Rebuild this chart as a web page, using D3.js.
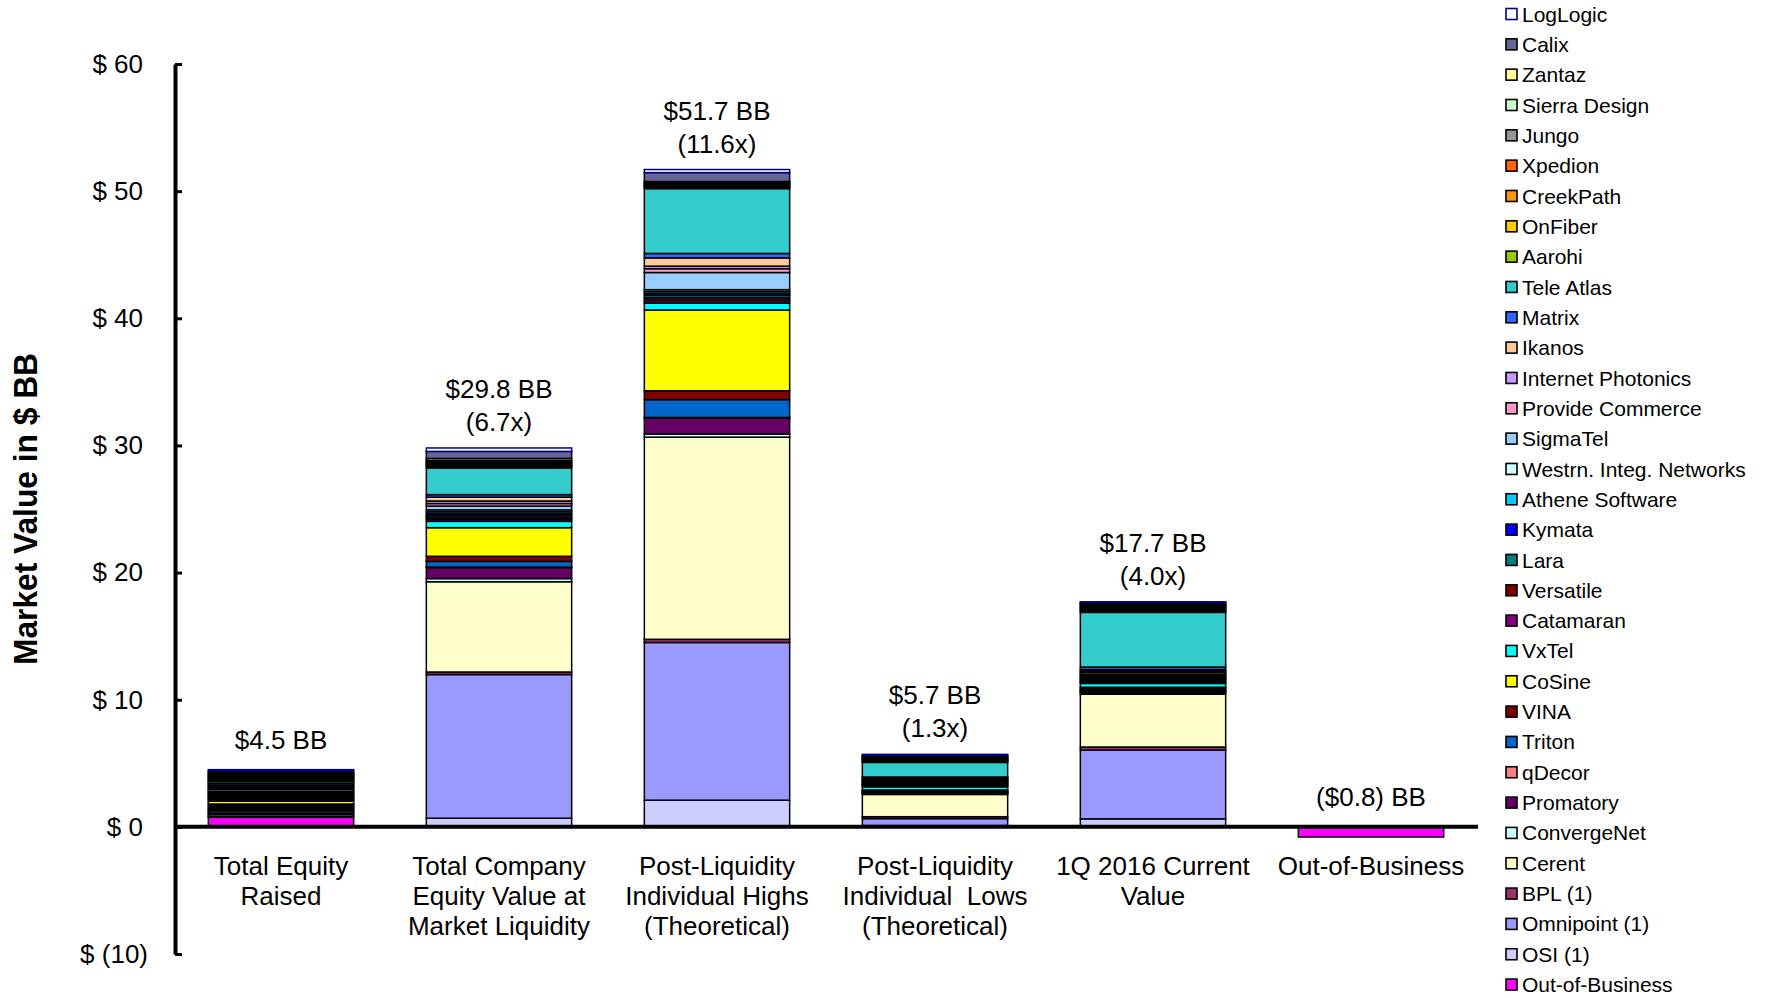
<!DOCTYPE html>
<html>
<head>
<meta charset="utf-8">
<script src="https://cdn.jsdelivr.net/npm/d3@7"></script>
<style>
  body { margin: 0; background: #fff; }
  svg { display: block; font-family: "Liberation Sans", Arial, sans-serif; }
</style>
</head>
<body>
<svg id="chart" width="1769" height="998"></svg>
<script>
"use strict";
// categories on the x axis (\n = line break)
const categories = [
  "Total Equity\nRaised",
  "Total Company\nEquity Value at\nMarket Liquidity",
  "Post-Liquidity\nIndividual Highs\n(Theoretical)",
  "Post-Liquidity\nIndividual  Lows\n(Theoretical)",
  "1Q 2016 Current\nValue",
  "Out-of-Business"
];

// series in legend order (top to bottom); stacked bottom-up in reverse
const seriesNames = [
  "LogLogic", "Calix", "Zantaz", "Sierra Design", "Jungo", "Xpedion", "CreekPath", "OnFiber",
  "Aarohi", "Tele Atlas", "Matrix", "Ikanos", "Internet Photonics", "Provide Commerce", "SigmaTel",
  "Westrn. Integ. Networks", "Athene Software", "Kymata", "Lara", "Versatile", "Catamaran", "VxTel",
  "CoSine", "VINA", "Triton", "qDecor", "Promatory", "ConvergeNet", "Cerent", "BPL (1)",
  "Omnipoint (1)", "OSI (1)", "Out-of-Business"
];
const seriesColors = [
  "#ffffff", "#666699", "#ffff99", "#ccffcc", "#969696", "#ff6600", "#ff9900", "#ffcc00",
  "#99cc00", "#33cccc", "#3366ff", "#ffcc99", "#cc99ff", "#ff99cc", "#99ccff",
  "#ccffff", "#00ccff", "#0000ff", "#008080", "#800000", "#800080", "#00ffff",
  "#ffff00", "#800000", "#0066cc", "#ff8080", "#660066", "#ccffff", "#ffffcc", "#993366",
  "#9999ff", "#ccccff", "#ff00ff"
];

// values in $ BB per bar, same order as seriesNames
const equityRaised = [0.1, 0.13, 0.1, 0.1, 0.1, 0.1, 0.1, 0.1, 0.1, 0.15, 0.13, 0.12, 0.12, 0.1, 0.15,
  0.1, 0.12, 0.1, 0.12, 0.1, 0.12, 0.12, 0.22, 0.1, 0.13, 0.1, 0.12, 0.1, 0.15, 0.1, 0.15, 0.1, 0.75];
const liquidityValue = [0.27, 0.55, 0.15, 0.1, 0.1, 0.1, 0.1, 0.1, 0.1, 2.1, 0.2, 0.3, 0.2, 0.2, 0.3,
  0.15, 0.15, 0.15, 0.15, 0.15, 0.15, 0.5, 2.25, 0.4, 0.45, 0.05, 0.85, 0.25, 7.1, 0.2, 11.3, 0.68, 0];
const highsValues = [0.24, 0.7, 0.08, 0.08, 0.08, 0.08, 0.08, 0.08, 0.08, 5.1, 0.35, 0.65, 0.2, 0.3, 1.35,
  0.15, 0.15, 0.15, 0.2, 0.2, 0.2, 0.55, 6.35, 0.7, 1.4, 0.05, 1.25, 0.25, 15.9, 0.25, 12.4, 2.1, 0];
const lowsValues = [0.07, 0.07, 0.07, 0.07, 0.07, 0.07, 0.07, 0.07, 0.07, 1.15, 0.07, 0.07, 0.07, 0.07, 0.07,
  0.07, 0.07, 0.07, 0.07, 0.07, 0.07, 0.25, 0.05, 0.05, 0.08, 0.04, 0.08, 0.05, 1.75, 0.15, 0.55, 0.1, 0];
const currentValues = [0.05, 0.08, 0.1, 0.1, 0.1, 0.1, 0.1, 0.1, 0.1, 4.3, 0.2, 0.12, 0.12, 0.15, 0.1,
  0.1, 0.1, 0.1, 0.1, 0.1, 0.1, 0.3, 0.1, 0.1, 0.1, 0.05, 0.1, 0.1, 4.15, 0.25, 5.4, 0.63, 0];
const outOfBusinessValues = [0, 0, 0, 0, 0, 0, 0, 0, 0, 0, 0, 0, 0, 0, 0,
  0, 0, 0, 0, 0, 0, 0, 0, 0, 0, 0, 0, 0, 0, 0, 0, 0, -0.8];

const totalLabels = ["$4.5 BB", "$29.8 BB", "$51.7 BB", "$5.7 BB", "$17.7 BB", "($0.8) BB"];
const multipleLabels = ["", "(6.7x)", "(11.6x)", "(1.3x)", "(4.0x)", ""];
const yTicks = [-10, 0, 10, 20, 30, 40, 50, 60];

const barValues = [equityRaised, liquidityValue, highsValues, lowsValues, currentValues, outOfBusinessValues];

const svg = d3.select("#chart");
const x = d3.scaleBand().domain(categories).range([172, 1480]).paddingInner(1 / 3).paddingOuter(1 / 6);
const y = d3.scaleLinear().domain([-10, 60]).range([954, 64]);
const color = d3.scaleOrdinal().domain(seriesNames).range(seriesColors);

const rows = categories.map((c, i) => {
  const row = {category: c};
  seriesNames.forEach((s, j) => row[s] = barValues[i][j]);
  return row;
});

const stack = d3.stack().keys(seriesNames.slice().reverse()).offset(d3.stackOffsetDiverging);
const layers = stack(rows);

// stacked segments
svg.append("g").selectAll("g").data(layers).join("g")
  .attr("fill", d => color(d.key))
  .attr("stroke", d => d.key === "LogLogic" ? "#000080" : "#000")
  .attr("stroke-width", 1.5)
  .selectAll("rect").data(d => d.filter(p => p[1] !== p[0])).join("rect")
    .attr("x", d => x(d.data.category))
    .attr("width", x.bandwidth())
    .attr("y", d => y(Math.max(d[0], d[1])))
    .attr("height", d => Math.abs(y(d[0]) - y(d[1])));

// zero line
svg.append("line")
  .attr("x1", 175).attr("x2", 1478)
  .attr("y1", y(0)).attr("y2", y(0))
  .attr("stroke", "#000").attr("stroke-width", 4);

// y axis, ticks pointing into the plot
const yAxis = d3.axisLeft(y).tickValues(yTicks).tickSizeInner(-7).tickSizeOuter(0).tickPadding(32)
  .tickFormat(d => d < 0 ? `$ (${-d})` : `$ ${d}`);
const gy = svg.append("g").attr("transform", "translate(175,0)").call(yAxis);
gy.select(".domain").attr("stroke-width", 4);
gy.selectAll(".tick line").attr("stroke-width", 3);
gy.selectAll(".tick text")
  .attr("font-size", 26).attr("font-family", "Liberation Sans, Arial, sans-serif").attr("fill", "#000")
  .attr("dx", d => d < 0 ? 5 : 0);

// axis title
svg.append("text")
  .attr("transform", "translate(37,509) rotate(-90)")
  .attr("text-anchor", "middle")
  .attr("font-family", "Liberation Sans Narrow, Arial Narrow, Liberation Sans, Arial, sans-serif")
  .attr("font-weight", "bold").attr("font-size", 34)
  .attr("textLength", 312).attr("lengthAdjust", "spacingAndGlyphs")
  .text("Market Value in $ BB");

// category labels
const cat = svg.append("g").selectAll("text").data(categories).join("text")
  .attr("text-anchor", "middle").attr("font-size", 26).attr("xml:space", "preserve")
  .attr("x", d => x(d) + x.bandwidth() / 2).attr("y", 875);
cat.selectAll("tspan").data(d => d.split("\n")).join("tspan")
  .attr("x", function() { return d3.select(this.parentNode).attr("x"); })
  .attr("dy", (d, i) => i === 0 ? 0 : 30)
  .text(d => d);

// totals above bars
const totals = rows.map((r, i) => d3.sum(barValues[i]));
const lbl = svg.append("g").selectAll("text").data(categories).join("text")
  .attr("text-anchor", "middle").attr("font-size", 26)
  .attr("x", d => x(d) + x.bandwidth() / 2)
  .attr("y", (d, i) => y(Math.max(0, totals[i])) - 17);
lbl.each(function(d, i) {
  const t = d3.select(this);
  const cx = t.attr("x");
  if (multipleLabels[i]) {
    t.append("tspan").attr("x", cx).attr("dy", -33).text(totalLabels[i]);
    t.append("tspan").attr("x", cx).attr("dy", 33).text(multipleLabels[i]);
  } else {
    t.append("tspan").attr("x", cx).attr("dy", -4).text(totalLabels[i]);
  }
});

// legend
const leg = svg.append("g").selectAll("g").data(seriesNames).join("g")
  .attr("transform", (d, i) => `translate(1506,${14 + i * 30.33})`);
leg.append("rect")
  .attr("x", 0).attr("y", -5.5).attr("width", 11).attr("height", 11)
  .attr("fill", d => color(d))
  .attr("stroke", d => d === "LogLogic" ? "#000080" : "#000").attr("stroke-width", 1.6);
leg.append("text")
  .attr("x", 16).attr("dy", "0.36em").attr("font-size", 21).attr("xml:space", "preserve")
  .text(d => d);
</script>
</body>
</html>
